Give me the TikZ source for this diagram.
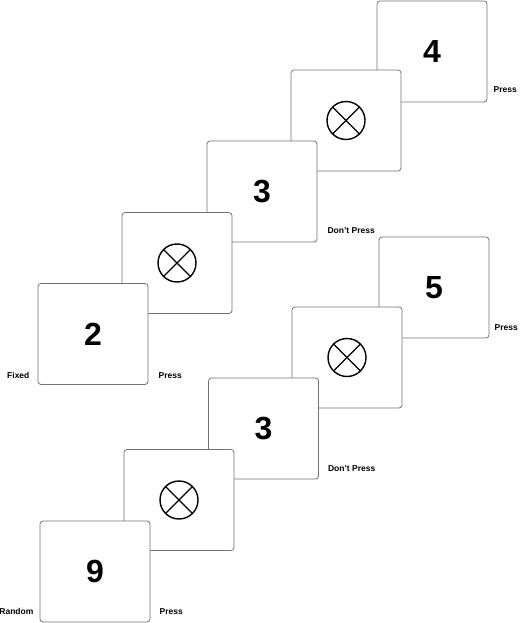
\documentclass[tikz,border=0pt]{standalone}
\usepackage{fontspec}
\setmainfont{Liberation Sans}
\usepackage{tikz}
\usetikzlibrary{positioning}

\tikzset{
  card/.style={draw=black!55,line width=0.8pt,fill=white,rounded corners=3pt,
    minimum width=110pt,minimum height=101pt,inner sep=0pt,
    font=\fontsize{32}{32}\selectfont\bfseries},
  lbl/.style={font=\fontsize{8.5}{9}\selectfont\bfseries,inner sep=0pt},
  nogo/.style={line width=1.4pt}
}
\newcommand{\nogosign}[1]{%
  \draw[nogo] (#1) circle (19pt);
  \draw[nogo] (#1) +(45:19pt) -- +(225:19pt);
  \draw[nogo] (#1) +(135:19pt) -- +(315:19pt);
}

\begin{document}
\begin{tikzpicture}[x=1pt,y=-1pt]
  \useasboundingbox (0,0) rectangle (520,623);
  % fixed sequence (back to front)
  \node[card] (f5) at (432,51.5) {4};
  \node[card] (f4) at (346,120.5) {};
  \nogosign{f4}
  \node[card] (f3) at (262,191.5) {3};
  \node[card] (f2) at (177,263) {};
  \nogosign{f2}
  \node[card] (f1) at (93,334) {2};
  \node[lbl,anchor=east] (fixed) at ([xshift=-8pt,yshift=9pt]f1.south west) {Fixed};
  \node[lbl,anchor=west] (fp1) at ([xshift=10pt,yshift=9pt]f1.south east) {Press};
  \node[lbl,anchor=west] (fp3) at ([xshift=10pt,yshift=12pt]f3.south east) {Don't Press};
  \node[lbl,anchor=west] (fp5) at ([xshift=6pt,yshift=13pt]f5.south east) {Press};
  % random sequence (back to front)
  \node[card] (r5) at (434,287.5) {5};
  \node[card] (r4) at (347,357.5) {};
  \nogosign{r4}
  \node[card] (r3) at (263.5,428.5) {3};
  \node[card] (r2) at (179,500) {};
  \nogosign{r2}
  \node[card] (r1) at (95,571.5) {9};
  \node[lbl,anchor=east] (random) at ([xshift=-6pt,yshift=11pt]r1.south west) {Random};
  \node[lbl,anchor=west] (rp1) at ([xshift=9pt,yshift=11pt]r1.south east) {Press};
  \node[lbl,anchor=west] (rp3) at ([xshift=9pt,yshift=11pt]r3.south east) {Don't Press};
  \node[lbl,anchor=west] (rp5) at ([xshift=5pt,yshift=11pt]r5.south east) {Press};
\end{tikzpicture}
\end{document}
